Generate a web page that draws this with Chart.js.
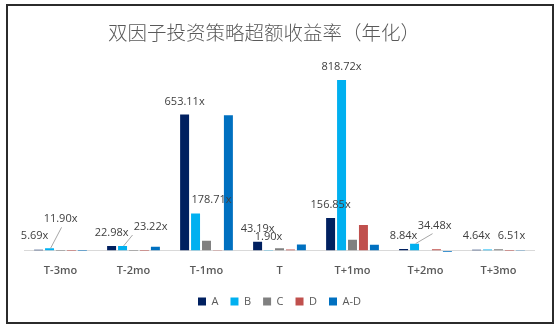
<!DOCTYPE html>
<html>
<head>
<meta charset="utf-8">
<script src="https://cdn.jsdelivr.net/npm/chart.js@4"></script>
<style>
  body { margin: 0; background: #fff; }
  #wrap { position: relative; width: 560px; height: 327px; }
  #frame { position: absolute; left: 6px; top: 4px; width: 544px; height: 316px;
           border: 2px solid #2b2b2b; pointer-events: none; }
</style>
</head>
<body>
<div id="wrap">
  <canvas id="excessChart" width="560" height="327"></canvas>
  <div id="frame"></div>
</div>
<script>
const categories = ['T-3mo', 'T-2mo', 'T-1mo', 'T', 'T+1mo', 'T+2mo', 'T+3mo'];
const seriesA  = [5.69, 22.98, 653.11, 43.19, 156.85, 8.84, 4.64];
const seriesB  = [11.90, 23.22, 178.71, 1.90, 818.72, 34.48, 6.51];
const seriesC  = [0.4, 0.6, 48, 13, 53, 3, 8];
const seriesD  = [0.2, 0.2, 1.5, 6, 124, 8, 1];
const seriesAD = [1, 19, 650, 30, 29, -6, 1.5];

// label placement for series A and B (text offset from bar top, leader line start shift)
const labelOffsetsA = [[-4, -14], [0, -13], [0, -13], [0, -13], [0, -13], [0, -13], [0, -14]];
const labelOffsetsB = [[11, -29, 1], [28, -19, -18], [16, -14], [0, -14], [0, -13], [20, -18, -2], [24, -14]];

const excessLabels = {
  id: 'excessLabels',
  afterDatasetsDraw(chart) {
    const ctx = chart.ctx;
    ctx.save();
    ctx.font = '11px "Open Sans"';
    ctx.fillStyle = '#404040';
    ctx.textAlign = 'center';
    ctx.textBaseline = 'middle';
    [[0, labelOffsetsA], [1, labelOffsetsB]].forEach(([di, offs]) => {
      const meta = chart.getDatasetMeta(di);
      const values = chart.data.datasets[di].data;
      meta.data.forEach((bar, i) => {
        const [dx, dy, lx] = offs[i];
        const tx = bar.x + dx, ty = bar.y + dy;
        ctx.fillText(values[i].toFixed(2) + 'x', tx, ty);
        if (lx !== undefined) {
          ctx.strokeStyle = '#a6a6a6';
          ctx.lineWidth = 1;
          ctx.beginPath();
          ctx.moveTo(tx + lx, ty + 8);
          ctx.lineTo(bar.x + 1, bar.y);
          ctx.stroke();
        }
      });
    });
    ctx.restore();
  },
  afterDraw(chart) {
    const ctx = chart.ctx;
    ctx.save();
    ctx.font = '300 19.5px "Noto Sans CJK SC"';
    ctx.fillStyle = '#595959';
    ctx.textAlign = 'center';
    ctx.textBaseline = 'middle';
    ctx.fillText('双因子投资策略超额收益率（年化）', 264, 33);
    ctx.restore();
  }
};

const mk = (label, data, color) => ({
  label, data, backgroundColor: color, borderWidth: 0,
  categoryPercentage: 0.75, barPercentage: 0.82
});

new Chart(document.getElementById('excessChart').getContext('2d'), {
  type: 'bar',
  data: {
    labels: categories,
    datasets: [
      mk('A', seriesA, '#002060'),
      mk('B', seriesB, '#00B0F0'),
      mk('C', seriesC, '#808080'),
      mk('D', seriesD, '#C0504D'),
      mk('A-D', seriesAD, '#0070C0')
    ]
  },
  options: {
    responsive: false,
    animation: false,
    layout: { padding: { left: 24, right: 25, top: 75, bottom: 10 } },
    plugins: {
      title: { display: false },
      tooltip: { enabled: false },
      legend: {
        position: 'bottom',
        labels: {
          boxWidth: 8, boxHeight: 8, padding: 12,
          color: '#595959', font: { family: 'Open Sans', size: 11 }
        }
      }
    },
    scales: {
      x: {
        grid: { display: false },
        border: { display: false },
        afterFit: axis => { axis.height += 6; },
        ticks: { color: '#595959', padding: 1, font: { family: 'Open Sans', size: 11, weight: '600' } }
      },
      y: {
        min: -19, max: 843,
        afterBuildTicks: axis => { axis.ticks = [{ value: 0 }]; },
        ticks: { display: false },
        border: { display: false },
        grid: { drawTicks: false, color: '#d9d9d9' }
      }
    }
  },
  plugins: [excessLabels]
});
</script>
</body>
</html>
